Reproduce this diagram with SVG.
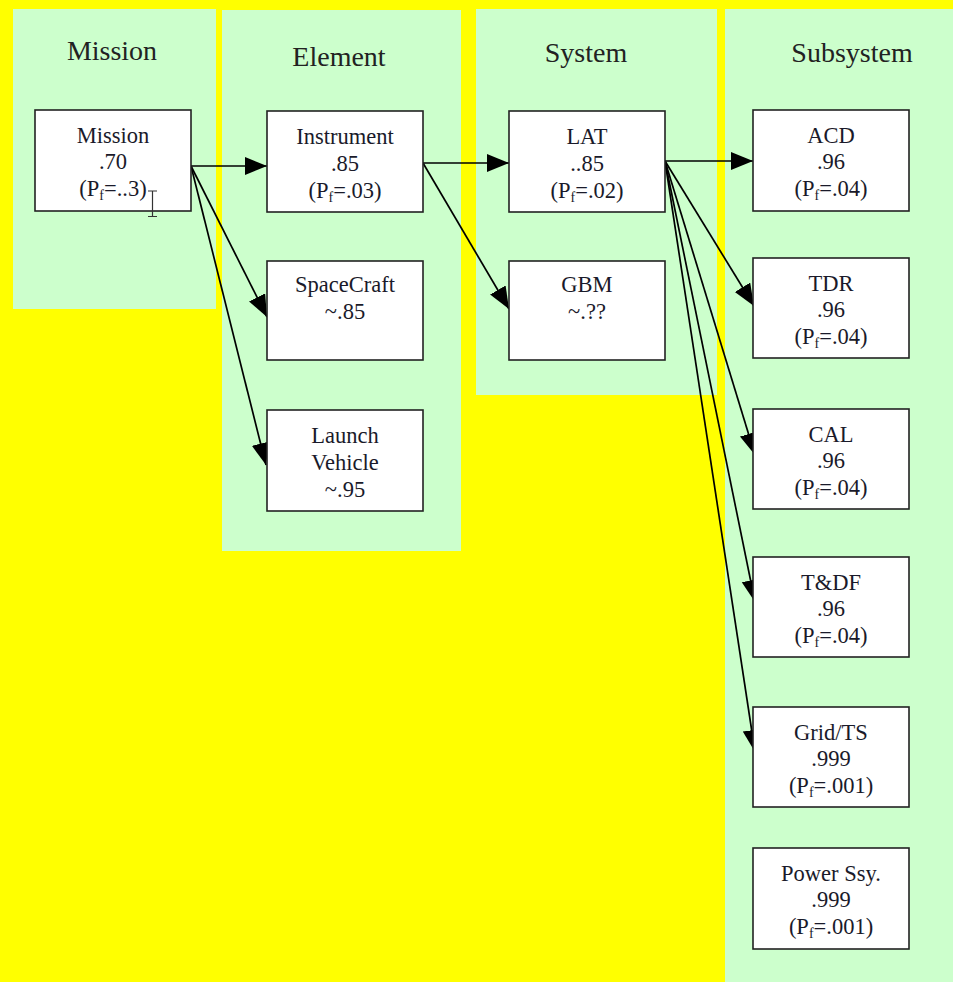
<svg xmlns="http://www.w3.org/2000/svg" width="953" height="982" viewBox="0 0 953 982">
<defs>
<style>
.panel{fill:#CCFFCC}
.box{fill:#FFFFFF;stroke:#222;stroke-width:1.6}
.title{font-family:"Liberation Serif",serif;font-size:28px;fill:#222;text-anchor:middle}
.lbl{font-family:"Liberation Serif",serif;font-size:22.5px;fill:#1a1a2a;text-anchor:middle}
.sub{font-size:14px}
.edge{stroke:#000;stroke-width:1.7;fill:none;marker-end:url(#arr)}
</style>
<marker id="arr" markerUnits="userSpaceOnUse" markerWidth="24" markerHeight="20" refX="22" refY="9" orient="auto">
<path d="M0,0 L22,9 L0,18 Z" fill="#000"/>
</marker>
</defs>
<rect x="0" y="0" width="953" height="982" fill="#FFFF00"/>
<g id="panels">
<rect class="panel" x="13" y="9" width="203" height="300"/>
<rect class="panel" x="222" y="10" width="239" height="541"/>
<rect class="panel" x="476" y="9" width="241" height="386"/>
<rect class="panel" x="725" y="9" width="228" height="973"/>
<text class="title" x="112" y="60">Mission</text>
<text class="title" x="339" y="66">Element</text>
<text class="title" x="586" y="62">System</text>
<text class="title" x="852" y="62">Subsystem</text>
</g>
<g id="connectors">
<line class="edge" x1="191" y1="166" x2="267" y2="166"/>
<line class="edge" x1="191" y1="166" x2="267" y2="317"/>
<line class="edge" x1="191" y1="166" x2="266" y2="465"/>
<line class="edge" x1="423" y1="163" x2="509" y2="163"/>
<line class="edge" x1="423" y1="163" x2="509" y2="309"/>
<line class="edge" x1="665" y1="161" x2="753" y2="161"/>
<line class="edge" x1="665" y1="161" x2="754" y2="306"/>
<line class="edge" x1="665" y1="161" x2="755" y2="455"/>
<line class="edge" x1="665" y1="161" x2="755" y2="602"/>
<line class="edge" x1="665" y1="161" x2="755" y2="752"/>
</g>
<g id="n-mission">
<rect class="box" x="35" y="110" width="156" height="101"/>
<text class="lbl" x="113" y="143">Mission</text>
<text class="lbl" x="113" y="169">.70</text>
<text class="lbl" x="113" y="196">(P<tspan class="sub" dy="4">f</tspan><tspan dy="-4">=..3)</tspan></text>
</g>
<g id="cursor">
<path d="M148,191 L157,191 M152.5,191 L152.5,216.5 M148,216.5 L157,216.5" stroke="#333" stroke-width="1.2" fill="none"/>
</g>
<g id="n-instrument">
<rect class="box" x="267" y="111" width="156" height="101"/>
<text class="lbl" x="345" y="144">Instrument</text>
<text class="lbl" x="345" y="171">.85</text>
<text class="lbl" x="345" y="198">(P<tspan class="sub" dy="4">f</tspan><tspan dy="-4">=.03)</tspan></text>
</g>
<g id="n-spacecraft">
<rect class="box" x="267" y="261" width="156" height="99"/>
<text class="lbl" x="345" y="292">SpaceCraft</text>
<text class="lbl" x="345" y="319">~.85</text>
</g>
<g id="n-launch">
<rect class="box" x="267" y="410" width="156" height="101"/>
<text class="lbl" x="345" y="443">Launch</text>
<text class="lbl" x="345" y="470">Vehicle</text>
<text class="lbl" x="345" y="497">~.95</text>
</g>
<g id="n-lat">
<rect class="box" x="509" y="111" width="156" height="101"/>
<text class="lbl" x="587" y="144">LAT</text>
<text class="lbl" x="587" y="171">..85</text>
<text class="lbl" x="587" y="198">(P<tspan class="sub" dy="4">f</tspan><tspan dy="-4">=.02)</tspan></text>
</g>
<g id="n-gbm">
<rect class="box" x="509" y="261" width="156" height="99"/>
<text class="lbl" x="587" y="292">GBM</text>
<text class="lbl" x="587" y="319">~.??</text>
</g>
<g id="n-acd">
<rect class="box" x="753" y="110" width="156" height="101"/>
<text class="lbl" x="831" y="143">ACD</text>
<text class="lbl" x="831" y="169">.96</text>
<text class="lbl" x="831" y="196">(P<tspan class="sub" dy="4">f</tspan><tspan dy="-4">=.04)</tspan></text>
</g>
<g id="n-tdr">
<rect class="box" x="753" y="258" width="156" height="100"/>
<text class="lbl" x="831" y="291">TDR</text>
<text class="lbl" x="831" y="317">.96</text>
<text class="lbl" x="831" y="344">(P<tspan class="sub" dy="4">f</tspan><tspan dy="-4">=.04)</tspan></text>
</g>
<g id="n-cal">
<rect class="box" x="753" y="409" width="156" height="100"/>
<text class="lbl" x="831" y="442">CAL</text>
<text class="lbl" x="831" y="468">.96</text>
<text class="lbl" x="831" y="495">(P<tspan class="sub" dy="4">f</tspan><tspan dy="-4">=.04)</tspan></text>
</g>
<g id="n-tdf">
<rect class="box" x="753" y="557" width="156" height="100"/>
<text class="lbl" x="831" y="590">T&amp;DF</text>
<text class="lbl" x="831" y="616">.96</text>
<text class="lbl" x="831" y="643">(P<tspan class="sub" dy="4">f</tspan><tspan dy="-4">=.04)</tspan></text>
</g>
<g id="n-grid">
<rect class="box" x="753" y="707" width="156" height="100"/>
<text class="lbl" x="831" y="740">Grid/TS</text>
<text class="lbl" x="831" y="766">.999</text>
<text class="lbl" x="831" y="793">(P<tspan class="sub" dy="4">f</tspan><tspan dy="-4">=.001)</tspan></text>
</g>
<g id="n-power">
<rect class="box" x="753" y="848" width="156" height="101"/>
<text class="lbl" x="831" y="881">Power Ssy.</text>
<text class="lbl" x="831" y="907">.999</text>
<text class="lbl" x="831" y="934">(P<tspan class="sub" dy="4">f</tspan><tspan dy="-4">=.001)</tspan></text>
</g>
</svg>
